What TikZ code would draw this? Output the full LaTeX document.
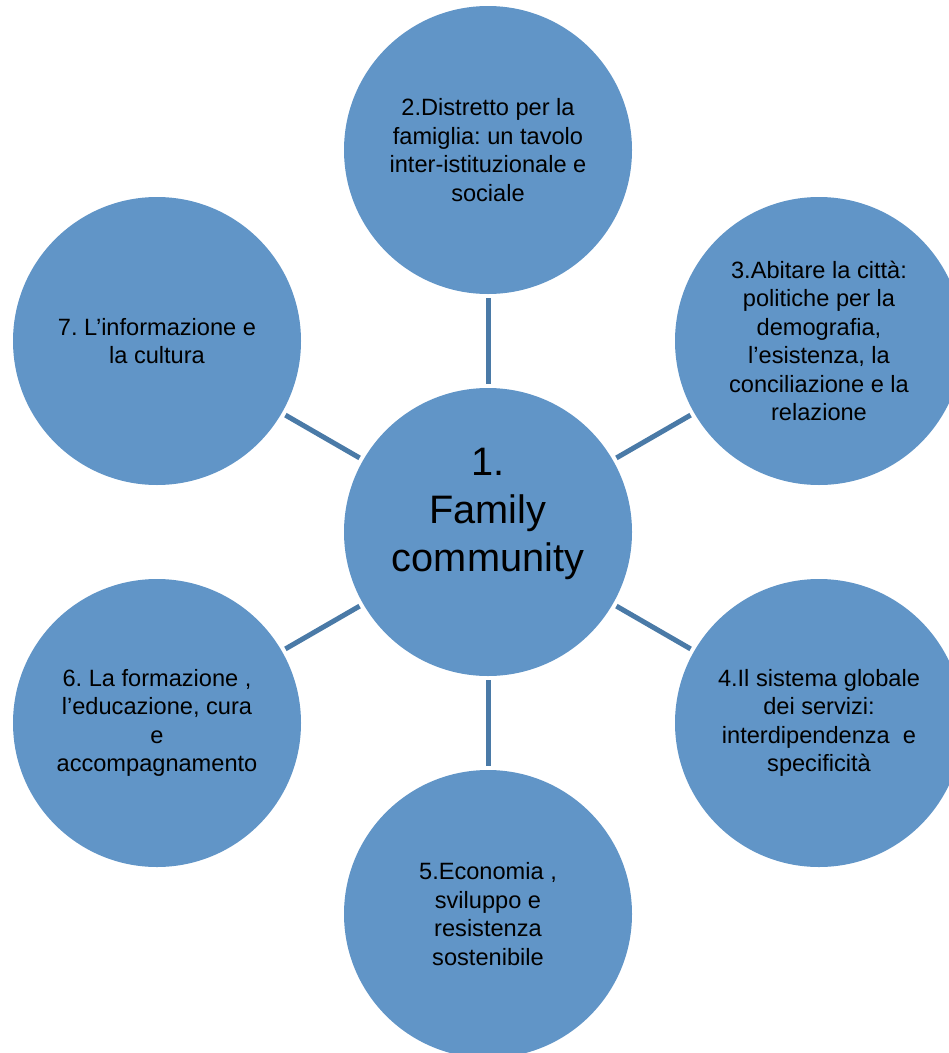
\documentclass[tikz,border=0pt]{standalone}
\usepackage{fontspec}
\setmainfont{Liberation Sans}
\frenchspacing
\definecolor{bubblefill}{RGB}{97,149,199}
\definecolor{linkcol}{RGB}{74,122,167}
\begin{document}
\begin{tikzpicture}[x=0.75pt,y=-0.75pt,
  bubble/.style={circle, fill=bubblefill, minimum size=216pt, inner sep=0pt,
    align=center, text=black, font=\fontsize{17.7pt}{21.4pt}\selectfont},
  hubtext/.style={align=center, text=black, inner sep=0pt,
    font=\fontsize{29.8pt}{36pt}\selectfont},
  link/.style={draw=linkcol, line width=3.75pt, shorten <=3pt, shorten >=3pt}]
\useasboundingbox (0,0) rectangle (949,1053);
\clip (0,0) rectangle (949,1053);
\node[bubble] (hub) at (488,532) {};
\node[hubtext] (hubt) at (488,514) {1.\\Family\\community};
\node[bubble] (n2) at (488,150) {2.Distretto per la\\famiglia: un tavolo\\inter-istituzionale e\\sociale};
\node[bubble] (n3) at (819,341) {3.Abitare la città:\\politiche per la\\demografia,\\l’esistenza, la\\conciliazione e la\\relazione};
\node[bubble] (n4) at (819,723) {4.Il sistema globale\\dei servizi:\\interdipendenza\ \ e\\specificità};
\node[bubble] (n5) at (488,914) {5.Economia ,\\sviluppo e\\resistenza\\sostenibile};
\node[bubble] (n6) at (157,723) {6. La formazione ,\\l’educazione, cura\\e\\accompagnamento};
\node[bubble] (n7) at (157,341) {7. L’informazione e\\la cultura};
\draw[link] (hub) -- (n2);
\draw[link] (hub) -- (n3);
\draw[link] (hub) -- (n4);
\draw[link] (hub) -- (n5);
\draw[link] (hub) -- (n6);
\draw[link] (hub) -- (n7);
\end{tikzpicture}
\end{document}
